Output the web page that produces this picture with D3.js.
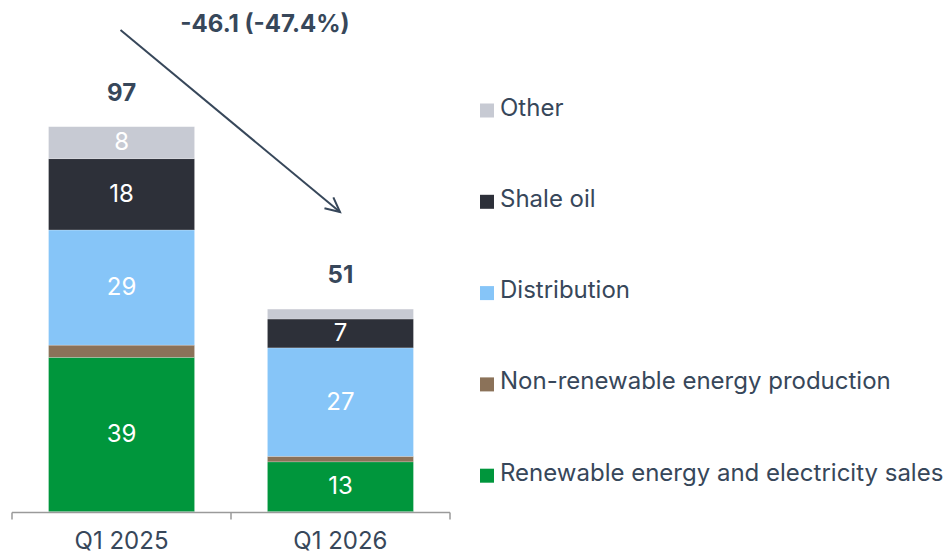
<!DOCTYPE html>
<html>
<head>
<meta charset="utf-8">
<script src="https://cdn.jsdelivr.net/npm/d3@7/dist/d3.min.js"></script>
<style>
  html, body { margin: 0; padding: 0; background: #fff; }
  svg { display: block; font-family: Inter, "Noto Sans", sans-serif; }
</style>
</head>
<body>
<svg id="chart" width="948" height="553"></svg>
<script>
// Quarterly figures by segment (stack order bottom -> top)
const periods = ["Q1 2025", "Q1 2026"];
const segments = ["Renewable energy and electricity sales", "Non-renewable energy production", "Distribution", "Shale oil", "Other"];
const renewable    = [39.0, 12.6];
const nonRenewable = [3.1, 1.4];
const distribution = [29.1, 27.4];
const shaleOil     = [18.0, 7.3];
const other        = [8.1, 2.5];
const colors = ["#00963c", "#8b7259", "#86c5f8", "#2d3039", "#c7cad3"];
const legendOrder = ["Other", "Shale oil", "Distribution", "Non-renewable energy production", "Renewable energy and electricity sales"];

const seriesValues = [renewable, nonRenewable, distribution, shaleOil, other];
const rows = periods.map((p, i) => {
  const r = { period: p };
  segments.forEach((s, k) => r[s] = seriesValues[k][i]);
  return r;
});
const totals = periods.map((p, i) => d3.sum(seriesValues, s => s[i]));

// Plain hyphen for negative numbers
const loc = d3.formatLocale({ decimal: ".", thousands: ",", grouping: [3], currency: ["", ""], minus: "-" });
const f0 = loc.format(".0f"), f1 = loc.format(".1f");

const textColor = "#37475a";
const svg = d3.select("#chart");

const x = d3.scaleBand().domain(periods).range([12, 450]).paddingInner(0.333).paddingOuter(0.167);
const y = d3.scaleLinear().domain([0, 97.3]).range([511.7, 126.7]);
const color = d3.scaleOrdinal().domain(segments).range(colors);

const stacked = d3.stack().keys(segments)(rows);

// Stacked bars
const layer = svg.append("g").selectAll("g").data(stacked).join("g")
  .attr("fill", d => color(d.key));
layer.selectAll("rect").data(d => d).join("rect")
  .attr("x", d => x(d.data.period))
  .attr("width", x.bandwidth())
  .attr("y", d => y(d[1]))
  .attr("height", d => y(d[0]) - y(d[1]))
  .attr("stroke", "#ffffff")
  .attr("stroke-opacity", 0.35)
  .attr("stroke-width", 0.6);

// Segment value labels (only where the segment is tall enough)
const segLabels = svg.append("g");
stacked.forEach(s => {
  s.forEach(d => {
    const v = d[1] - d[0];
    if (v < 5) return;
    segLabels.append("text")
      .attr("x", x(d.data.period) + x.bandwidth() / 2)
      .attr("y", (y(d[0]) + y(d[1])) / 2 - 1)
      .attr("dy", "0.36em")
      .attr("text-anchor", "middle")
      .attr("fill", "#ffffff")
      .attr("font-size", 24)
      .text(f0(v));
  });
});

// Totals above bars
svg.append("g").selectAll("text").data(periods).join("text")
  .attr("x", p => x(p) + x.bandwidth() / 2)
  .attr("y", (p, i) => y(totals[i]) - 26)
  .attr("text-anchor", "middle")
  .attr("fill", textColor)
  .attr("font-size", 24)
  .attr("font-weight", 700)
  .text((p, i) => f0(totals[i]));

// X axis with outer and inner ticks at band edges
const axisG = svg.append("g").attr("transform", "translate(0,512.5)");
axisG.append("line").attr("x1", 12).attr("x2", 450).attr("stroke", "#9a9a9a").attr("stroke-width", 1.5);
const edges = [12, (x(periods[0]) + x.bandwidth() + x(periods[1])) / 2, 450];
axisG.selectAll("line.tick").data(edges).join("line").attr("class", "tick")
  .attr("x1", d => d).attr("x2", d => d).attr("y1", 0).attr("y2", 7)
  .attr("stroke", "#9a9a9a").attr("stroke-width", 1.5);
axisG.selectAll("text").data(periods).join("text")
  .attr("x", p => x(p) + x.bandwidth() / 2)
  .attr("y", 36)
  .attr("text-anchor", "middle")
  .attr("fill", textColor)
  .attr("font-size", 24)
  .text(p => p);

// Change arrow between the two totals
const diff = totals[1] - totals[0];
const pct = diff / totals[0] * 100;
const ax1 = 120.5, ay1 = 30, ax2 = 340, ay2 = 212;
svg.append("line")
  .attr("x1", ax1).attr("y1", ay1).attr("x2", ax2).attr("y2", ay2)
  .attr("stroke", "#37475a").attr("stroke-width", 2);
const ang = Math.atan2(ay2 - ay1, ax2 - ax1);
const hl = 16, spread = 0.45;
svg.append("path")
  .attr("d", `M${ax2 - hl * Math.cos(ang - spread)},${ay2 - hl * Math.sin(ang - spread)} L${ax2},${ay2} L${ax2 - hl * Math.cos(ang + spread)},${ay2 - hl * Math.sin(ang + spread)}`)
  .attr("fill", "none").attr("stroke", "#37475a").attr("stroke-width", 2);
svg.append("text")
  .attr("x", 265).attr("y", 32)
  .attr("text-anchor", "middle")
  .attr("fill", textColor)
  .attr("font-size", 24)
  .attr("font-weight", 700)
  .text(`${f1(diff)} (${f1(pct)}%)`);

// Legend
const legend = svg.append("g").selectAll("g").data(legendOrder).join("g")
  .attr("transform", (d, i) => `translate(480,${117 + i * 91.3})`);
legend.append("rect").attr("x", 0).attr("y", -13.5).attr("width", 14).attr("height", 14)
  .attr("fill", d => color(d));
legend.append("text").attr("x", 20).attr("y", -1.5)
  .attr("fill", textColor).attr("font-size", 24)
  .text(d => d);
</script>
</body>
</html>
